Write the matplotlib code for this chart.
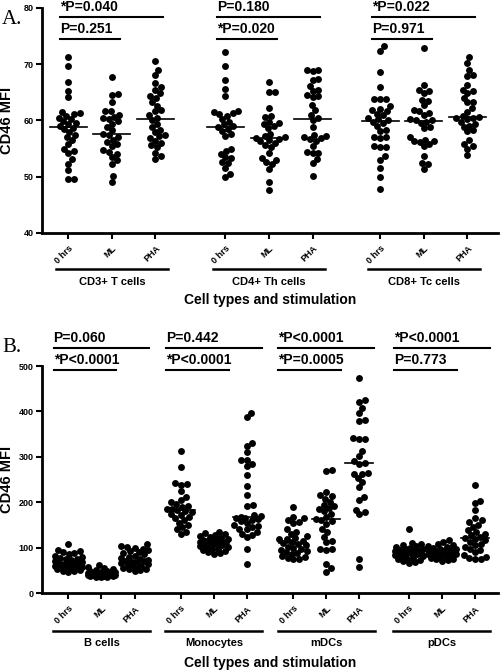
import matplotlib
matplotlib.use("Agg")
import matplotlib.pyplot as plt
import matplotlib.transforms as mtransforms
import numpy as np

plt.rcParams['font.family'] = ['Liberation Sans', 'DejaVu Sans']

# ---- data ----
stims = ["0 hrs", "ML", "PHA"]

groupsA = ["CD3+ T cells", "CD4+ Th cells", "CD8+ Tc cells"]
cd3_0 = [71.3, 69.6, 66.8, 65.3, 64.1, 61.5, 61.3, 61.1, 60.8, 60.5, 60.2, 59.9, 59.6, 59.3, 59.0,
         58.7, 58.4, 57.9, 57.5, 57.0, 56.6, 55.8, 54.9, 54.5, 54.2, 53.1, 52.3, 51.2, 49.6, 49.6]
cd3_ml = [67.7, 64.7, 64.6, 63.3, 61.7, 61.6, 61.0, 60.7, 60.5, 60.2, 59.9, 59.4, 58.9, 58.3, 57.6,
          57.4, 57.0, 56.6, 56.2, 55.8, 55.5, 54.8, 54.4, 54.0, 53.5, 52.9, 52.3, 50.1, 49.1]
cd3_pha = [70.5, 68.9, 68.0, 66.7, 66.0, 65.5, 64.8, 64.3, 64.0, 63.2, 62.6, 61.8, 61.6, 60.9, 60.5,
           60.0, 59.4, 58.8, 58.3, 57.9, 57.5, 57.2, 56.9, 56.4, 56.0, 55.6, 55.3, 54.3, 53.6, 53.1]
cd4_0 = [72.2, 69.6, 67.2, 65.6, 64.3, 61.6, 61.5, 61.3, 61.2, 60.8, 60.3, 59.8, 59.3, 59.0, 58.8,
         58.5, 58.1, 57.6, 57.2, 55.0, 54.6, 54.1, 53.5, 53.3, 52.6, 52.4, 51.5, 50.5, 49.9]
cd4_ml = [66.8, 65.1, 65.0, 62.2, 60.8, 60.6, 59.8, 59.6, 59.3, 59.0, 58.6, 57.6, 57.2, 57.0, 56.9,
          56.7, 56.5, 56.3, 56.0, 55.7, 55.3, 54.3, 53.3, 53.0, 52.6, 52.3, 51.4, 49.0, 47.6]
cd4_pha = [69.0, 68.9, 68.8, 67.4, 67.2, 66.2, 65.5, 65.3, 64.6, 64.4, 64.2, 62.7, 61.8, 61.0, 60.4,
           60.0, 58.8, 57.5, 57.3, 57.1, 56.9, 56.7, 56.4, 55.5, 54.4, 54.3, 54.2, 53.1, 52.5, 50.2]
cd8_0 = [73.2, 72.4, 68.6, 66.0, 63.9, 63.9, 63.8, 62.5, 62.0, 61.8, 61.6, 61.2, 60.9, 60.4, 60.2,
         60.0, 59.8, 59.5, 59.1, 58.3, 58.2, 57.0, 57.0, 56.9, 55.4, 55.3, 55.2, 53.6, 52.9, 51.6,
         50.0, 47.9]
cd8_ml = [72.8, 66.3, 65.5, 65.3, 64.8, 63.7, 63.5, 62.7, 61.9, 61.6, 61.4, 60.9, 60.3, 60.1, 60.0,
          59.8, 59.5, 58.8, 58.6, 57.0, 56.6, 56.4, 56.3, 56.2, 55.8, 55.4, 53.6, 52.4, 52.2, 51.4]
cd8_pha = [71.2, 70.2, 68.9, 68.0, 67.9, 66.3, 65.5, 65.3, 64.8, 64.0, 63.3, 63.2, 62.2, 61.5, 60.8,
           60.6, 60.5, 60.4, 60.2, 59.8, 59.4, 59.1, 58.9, 58.3, 58.1, 56.6, 55.9, 55.5, 55.0, 53.8]
dataA = [cd3_0, cd3_ml, cd3_pha, cd4_0, cd4_ml, cd4_pha, cd8_0, cd8_ml, cd8_pha]
pA = [("*P=0.040", "P=0.251"), ("P=0.180", "*P=0.020"), ("*P=0.022", "P=0.971")]

groupsB = ["B cells", "Monocytes", "mDCs", "pDCs"]
b_0 = [108, 95, 93, 90, 88, 85, 82, 80, 78, 76, 74, 72, 70, 68, 66, 65, 64, 63, 62, 60,
       58, 57, 56, 55, 54, 52, 50, 49, 48, 47]
b_ml = [62, 58, 55, 52, 50, 49, 48, 47, 46, 45, 45, 44, 44, 43, 43, 42, 42, 41, 41, 40,
        40, 39, 39, 38, 38, 37, 37, 36, 35, 35]
b_pha = [108, 104, 102, 100, 98, 95, 92, 90, 88, 85, 82, 80, 78, 76, 72, 70, 70, 69, 68, 66,
         64, 62, 60, 58, 56, 55, 53, 52, 50, 49]
mo_0 = [313, 278, 242, 240, 238, 225, 212, 205, 200, 196, 192, 190, 186, 184, 182, 180, 178,
        175, 172, 168, 165, 160, 155, 150, 145, 140, 135, 130]
mo_ml = [135, 132, 130, 128, 126, 124, 122, 120, 118, 116, 115, 114, 113, 112, 112, 111, 110,
         109, 108, 106, 104, 102, 100, 98, 96, 94, 92, 90, 88, 86]
mo_pha = [397, 388, 330, 324, 311, 294, 293, 284, 280, 260, 236, 216, 194, 192, 172, 170, 168,
          166, 165, 162, 161, 158, 154, 150, 148, 146, 142, 140, 135, 131, 128, 124, 96, 65]
md_0 = [190, 168, 165, 160, 157, 155, 140, 135, 130, 125, 122, 120, 118, 115, 112, 110, 108,
        105, 102, 100, 97, 95, 92, 90, 88, 85, 82, 80, 78, 76, 74]
md_ml = [272, 268, 222, 215, 213, 208, 201, 195, 192, 187, 185, 180, 175, 168, 163, 160, 158,
         153, 142, 135, 124, 114, 112, 98, 96, 95, 65, 55, 47]
md_pha = [473, 425, 420, 407, 396, 382, 380, 341, 340, 339, 313, 302, 290, 287, 284, 264, 263,
          262, 253, 245, 234, 212, 205, 183, 178, 173, 76, 58]
pd_0 = [142, 110, 108, 106, 104, 102, 100, 98, 96, 95, 94, 93, 92, 91, 90, 89, 88, 87, 86, 85,
        84, 82, 80, 78, 76, 74, 72, 70, 68, 66]
pd_ml = [116, 112, 108, 105, 103, 101, 99, 97, 96, 95, 94, 93, 92, 91, 90, 90, 89, 88, 87, 86,
         85, 84, 82, 80, 78, 76, 74, 72, 70]
pd_pha = [238, 203, 199, 183, 165, 160, 157, 150, 146, 139, 135, 131, 128, 124, 121, 119, 117,
          112, 109, 106, 102, 98, 95, 90, 84, 80, 77, 76, 75]
dataB = [b_0, b_ml, b_pha, mo_0, mo_ml, mo_pha, md_0, md_ml, md_pha, pd_0, pd_ml, pd_pha]
pB = [("P=0.060", "*P<0.0001"), ("P=0.442", "*P<0.0001"),
      ("*P<0.0001", "*P=0.0005"), ("*P<0.0001", "P=0.773")]


def swarm(vals, xpx, ypx, d, maxw):
    # greedy beeswarm, offsets returned in data units
    order = np.argsort(vals)
    placed = []
    offs = np.zeros(len(vals))
    for i in order:
        y = vals[i] * ypx
        cands = [0.0]
        for (px, py) in placed:
            dy = y - py
            if abs(dy) < d:
                dx = np.sqrt(d * d - dy * dy)
                cands += [px + dx, px - dx]
        cands.sort(key=abs)
        best = None
        for c in cands:
            if abs(c) > maxw:
                continue
            if all((c - px) ** 2 + (y - py) ** 2 >= d * d - 1e-6 for px, py in placed):
                best = c
                break
        if best is None:
            # too crowded: take the spot with the most room inside the allowed width
            grid = np.linspace(-maxw, maxw, 21)
            room = [min((g - px) ** 2 + (y - py) ** 2 for px, py in placed) for g in grid]
            best = float(grid[int(np.argmax(room))])
        placed.append((best, y))
        offs[i] = best / xpx
    return offs


def panel(ax, data, pos, groups, pvals, ylim, yticks, xpad, gpad, bpad, ylines, dot):
    ax.set_xlim(pos[0] - xpad[0], pos[-1] + xpad[1])
    ax.set_ylim(*ylim)
    fig.canvas.draw()
    p0 = ax.transData.transform((0, 0))
    p1 = ax.transData.transform((1, 1))
    xpx, ypx = p1[0] - p0[0], p1[1] - p0[1]
    for k, vals in enumerate(data):
        v = np.array(vals, float)
        off = swarm(v, xpx, ypx, dot * 0.85, 0.42 * xpx)
        ax.scatter(pos[k] + off, v, s=(dot * 0.72) ** 2, c='black', lw=0, zorder=3, clip_on=False)
        ax.plot([pos[k] - 0.42, pos[k] + 0.42], [np.median(v)] * 2, color='black', lw=1.2, zorder=4)
    for s in ['top', 'right']:
        ax.spines[s].set_visible(False)
    for s in ['left', 'bottom']:
        ax.spines[s].set_linewidth(2)
    ax.set_yticks(yticks)
    ax.set_yticklabels([str(t) for t in yticks], fontsize=6.5, fontweight='bold')
    ax.set_xticks(pos)
    ax.set_xticklabels(stims * len(groups), rotation=45, ha='right', rotation_mode='anchor',
                       fontsize=6.5, fontweight='bold')
    ax.tick_params(axis='both', width=1.5, length=4, pad=2)
    ax.tick_params(axis='x', pad=4)
    ax.set_ylabel("CD46 MFI", fontsize=10.5, fontweight='bold')
    ax.yaxis.set_label_coords(-0.062, 0.5)
    tr = mtransforms.blended_transform_factory(ax.transData, ax.transAxes)
    for g, name in enumerate(groups):
        c = pos[3 * g + 1]
        ax.plot([c - gpad, c + gpad], [ylines[0]] * 2, color='black', lw=1.8, transform=tr, clip_on=False)
        ax.text(c, ylines[1], name, ha='center', va='center', fontsize=8, fontweight='bold', transform=tr)
        a = pos[3 * g] - bpad
        long_p, short_p = pvals[g]
        ax.plot([a, pos[3 * g + 2] + bpad], [ylines[3]] * 2, color='black', lw=1.5, transform=tr, clip_on=False)
        ax.text(a, ylines[3] + 0.012, long_p, ha='left', va='bottom', fontsize=10, fontweight='bold',
                transform=tr)
        ax.plot([a, pos[3 * g + 1] + bpad], [ylines[4]] * 2, color='black', lw=1.5, transform=tr, clip_on=False)
        ax.text(a, ylines[4] + 0.012, short_p, ha='left', va='bottom', fontsize=10, fontweight='bold',
                transform=tr)
    ax.text(0.5, ylines[2], "Cell types and stimulation", ha='center', va='center', fontsize=10,
            fontweight='bold', transform=ax.transAxes)


fig = plt.figure(figsize=(5.0, 6.71), dpi=100)
axA = fig.add_axes([0.084, 0.6528, 0.912, 0.3353])
axB = fig.add_axes([0.084, 0.1162, 0.912, 0.3383])

posA = [0, 1, 2, 3.6, 4.6, 5.6, 7.15, 8.15, 9.15]
posB = [0, 1, 2, 3.4, 4.4, 5.4, 6.8, 7.8, 8.8, 10.3, 11.3, 12.3]

panel(axA, dataA, posA, groupsA, pA, (40, 80), [40, 50, 60, 70, 80], (0.6, 0.7), 1.28, 0.18,
      (-0.16, -0.218, -0.298, 0.96, 0.862), 6.9)
panel(axB, dataB, posB, groupsB, pB, (0, 500), [0, 100, 200, 300, 400, 500], (0.8, 0.7), 1.47, 0.45,
      (-0.167, -0.22, -0.308, 1.079, 0.982), 6.9)

fig.text(0.004, 0.985, "A.", fontsize=15, family=['Liberation Serif', 'DejaVu Serif'], va='top')
fig.text(0.004, 0.497, "B.", fontsize=15, family=['Liberation Serif', 'DejaVu Serif'], va='top')

fig.savefig("out.png", dpi=100)
